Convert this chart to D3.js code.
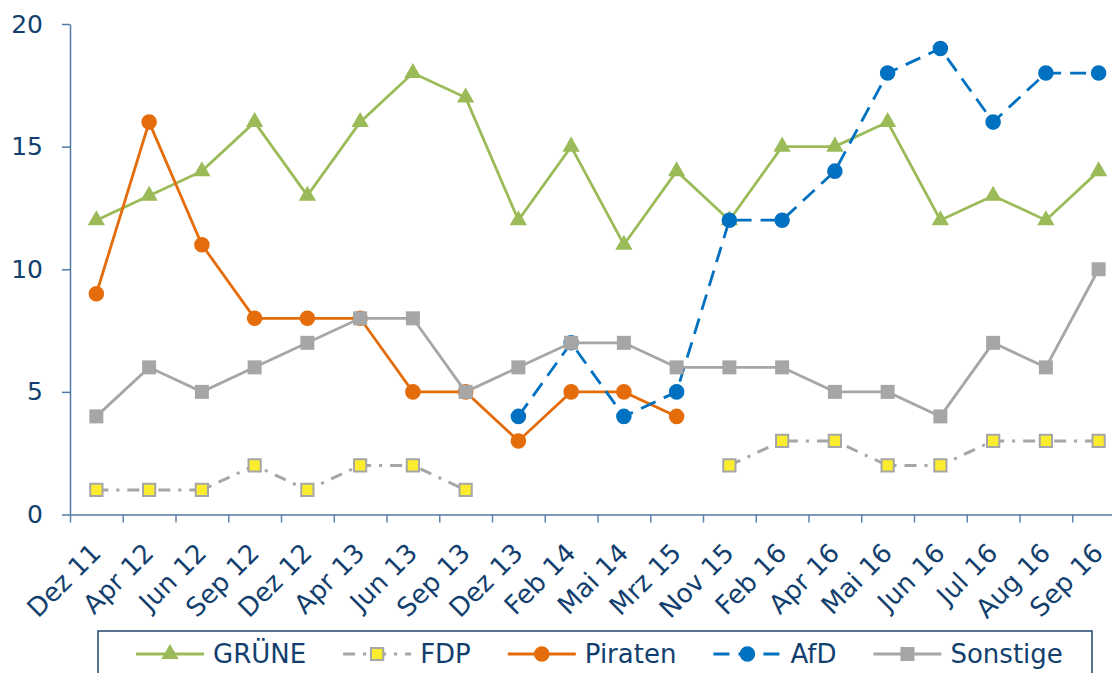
<!DOCTYPE html>
<html>
<head>
<meta charset="utf-8">
<script src="https://cdn.jsdelivr.net/npm/d3@7"></script>
<style>
  body { margin: 0; background: #fff; }
  svg { display: block; font-family: "DejaVu Sans", Verdana, sans-serif; }
</style>
</head>
<body>
<div id="main"></div>
<script>
// Werte
const kategorien = ["Dez 11", "Apr 12", "Jun 12", "Sep 12", "Dez 12", "Apr 13", "Jun 13", "Sep 13", "Dez 13", "Feb 14",
  "Mai 14", "Mrz 15", "Nov 15", "Feb 16", "Apr 16", "Mai 16", "Jun 16", "Jul 16", "Aug 16", "Sep 16"];
const gruene   = [12, 13, 14, 16, 13, 16, 18, 17, 12, 15, 11, 14, 12, 15, 15, 16, 12, 13, 12, 14];
const fdp      = [1, 1, 1, 2, 1, 2, 2, 1, null, null, null, null, 2, 3, 3, 2, 2, 3, 3, 3];
const piraten  = [9, 16, 11, 8, 8, 8, 5, 5, 3, 5, 5, 4, null, null, null, null, null, null, null, null];
const afd      = [null, null, null, null, null, null, null, null, 4, 7, 4, 5, 12, 12, 14, 18, 19, 16, 18, 18];
const sonstige = [4, 6, 5, 6, 7, 8, 8, 5, 6, 7, 7, 6, 6, 6, 5, 5, 4, 7, 6, 10];
const yTicks   = [0, 5, 10, 15, 20];

const reihen = [
  {name: "GRÜNE", werte: gruene, farbe: "#9BBB59", dash: null, symbol: d3.symbolTriangle, size: 130, fill: "#9BBB59", stroke: "none"},
  {name: "FDP", werte: fdp, farbe: "#A6A6A6", dash: "12,8,3,8", symbol: d3.symbolSquare, size: 150, fill: "#FCEC2E", stroke: "#A6A6A6"},
  {name: "Piraten", werte: piraten, farbe: "#E46C0A", dash: null, symbol: d3.symbolCircle, size: 190, fill: "#E46C0A", stroke: "none"},
  {name: "AfD", werte: afd, farbe: "#0070C0", dash: "16,9", symbol: d3.symbolCircle, size: 190, fill: "#0070C0", stroke: "none"},
  {name: "Sonstige", werte: sonstige, farbe: "#A6A6A6", dash: null, symbol: d3.symbolSquare, size: 196, fill: "#A6A6A6", stroke: "none"}
];

const W = 1112, H = 673;
const text = "#123F6E";
const links = 70, oben = 24, unten = 514.5, schritt = 52.75;

const svg = d3.select("#main").append("svg").attr("width", W).attr("height", H);

const x = d3.scaleBand().domain(kategorien).range([links, links + schritt * kategorien.length]);
const xi = d3.scaleLinear().domain([0, kategorien.length]).range([links, links + schritt * kategorien.length]);
const y = d3.scaleLinear().domain([0, 20]).range([unten, oben]);

// y-Achse
const yAx = svg.append("g").attr("transform", `translate(${links},0)`)
  .call(d3.axisLeft(y).tickValues(yTicks).tickSize(8).tickSizeOuter(0).tickPadding(19));
yAx.select(".domain").attr("stroke", "#4F7BA6").attr("stroke-width", 1.5);
yAx.selectAll(".tick line").attr("stroke", "#4F7BA6").attr("stroke-width", 1.5);
yAx.selectAll("text").attr("fill", text).attr("font-size", 25).attr("font-family", "DejaVu Sans, Verdana, sans-serif");

// x-Achse: Striche zwischen den Kategorien
const xAx = svg.append("g").attr("transform", `translate(0,${unten})`)
  .call(d3.axisBottom(xi).tickValues(d3.range(0, kategorien.length + 1)).tickSize(8).tickSizeOuter(0).tickFormat(""));
xAx.select(".domain").attr("stroke", "#7F9AB8").attr("stroke-width", 2);
xAx.selectAll(".tick line").attr("stroke", "#5F82A8").attr("stroke-width", 1.5);

const xLab = svg.append("g").attr("transform", `translate(0,${unten})`)
  .call(d3.axisBottom(x).tickSize(0).tickPadding(0));
xLab.select(".domain").remove();
xLab.selectAll("text")
  .attr("fill", text).attr("font-size", 26).attr("font-family", "DejaVu Sans, Verdana, sans-serif")
  .attr("text-anchor", "end").attr("dy", 0).attr("y", 0)
  .attr("transform", "translate(6,40) rotate(-45)");

// Linien und Marker
const linie = d3.line()
  .defined(d => d.v != null)
  .x(d => x(d.k) + x.bandwidth() / 2)
  .y(d => y(d.v));

reihen.forEach(r => {
  const daten = kategorien.map((k, i) => ({k: k, v: r.werte[i]}));
  const g = svg.append("g");
  g.append("path")
    .datum(daten)
    .attr("d", linie)
    .attr("fill", "none")
    .attr("stroke", r.farbe)
    .attr("stroke-width", r.name === "FDP" ? 3 : 2.8)
    .attr("stroke-dasharray", r.dash);
  g.selectAll("path.m")
    .data(daten.filter(d => d.v != null))
    .join("path")
    .attr("class", "m")
    .attr("d", d3.symbol().type(r.symbol).size(r.size))
    .attr("transform", d => `translate(${x(d.k) + x.bandwidth() / 2},${y(d.v)})`)
    .attr("fill", r.fill)
    .attr("stroke", r.stroke)
    .attr("stroke-width", 2);
});

// Legende
const legY = 654;
svg.append("rect")
  .attr("x", 98).attr("y", 631).attr("width", 994).attr("height", 60)
  .attr("fill", "none").attr("stroke", "#1F4470").attr("stroke-width", 1.5);

let lx = 136;
reihen.forEach(r => {
  const g = svg.append("g").attr("transform", `translate(${lx},${legY})`);
  g.append("line").attr("x1", 0).attr("x2", 68).attr("y1", 0).attr("y2", 0)
    .attr("stroke", r.farbe).attr("stroke-width", r.name === "FDP" ? 3 : 2.8)
    .attr("stroke-dasharray", r.dash);
  g.append("path")
    .attr("d", d3.symbol().type(r.symbol).size(r.size))
    .attr("transform", "translate(34,0)")
    .attr("fill", r.fill).attr("stroke", r.stroke).attr("stroke-width", 2);
  const t = g.append("text").attr("x", 77).attr("y", 0).attr("dy", "0.36em")
    .attr("fill", text).attr("font-size", 26).text(r.name);
  lx += 77 + t.node().getComputedTextLength() + 37;
});
</script>
</body>
</html>
